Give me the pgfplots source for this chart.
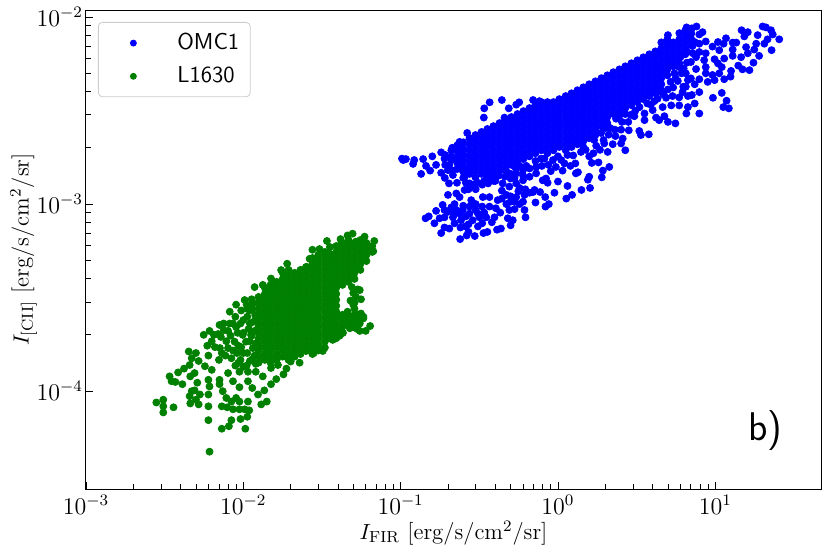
\documentclass[border=0pt]{standalone}
\usepackage{pgfplots}
\pgfplotsset{compat=1.18}
\definecolor{mplgreen}{RGB}{0,128,0}
\definecolor{mplframe}{RGB}{204,204,204}

\begin{document}
\begin{tikzpicture}
\begin{axis}[
  name=ax,
  scale only axis,
  width=367.5pt,
  height=239.5pt,
  xmode=log,
  ymode=log,
  xmin=1e-3, xmax=47,
  ymin=3e-5, ymax=1.09e-2,
  xtick={1e-3,1e-2,1e-1,1,10},
  ytick={1e-4,1e-3,1e-2},
  tick align=inside,
  tick pos=lower,
  major tick length=3.75pt,
  minor tick length=2.4pt,
  axis line style={line width=0.5pt},
  tick style={line width=0.4pt,black},
  tick label style={font=\fontsize{11.5}{14}\selectfont},
  yticklabel style={xshift=2pt},
  xticklabel style={yshift=0.5pt},
  xlabel={$I_{\rm FIR}$ [erg/s/cm$^2$/sr]},
  ylabel={$I_{\rm [CII]}$ [erg/s/cm$^2$/sr]},
  label style={font=\fontsize{11.4}{14}\selectfont},
  xlabel style={yshift=3.5pt},
  ylabel style={yshift=-7pt},
  legend cell align=left,
  legend image code/.code={
    \path[draw=none] (0pt,0pt) -- (34pt,0pt);
    \draw[#1, draw=none, mark size=1.5pt] plot coordinates {(14pt,0pt)};
  },
  legend style={
    at={(0.0163,0.975)}, anchor=north west,
    draw=mplframe, line width=0.4pt, rounded corners=2pt,
    fill=white, inner xsep=3.5pt, inner ysep=3.5pt,
    font=\fontsize{11.5}{15}\selectfont\sffamily,
    row sep=3pt,
  },
]

\addplot[only marks, mark=*, mark size=1.75pt, color=blue, mark options={draw=blue, fill=blue}] coordinates {
(0.102,1.75e-3) (0.108,1.74e-3) (0.104,1.72e-3) (0.12,1.64e-3) (0.122,1.72e-3) (0.135,1.45e-3) (0.139,1.74e-3)
(0.154,1.51e-3) (0.145,1.6e-3) (0.159,1.8e-3) (0.168,1.62e-3) (0.181,1.89e-3) (0.181,1.47e-3) (0.191,1.38e-3)
(0.203,1.29e-3) (0.2,1.52e-3) (0.228,1.3e-3) (0.215,1.43e-3) (0.237,2.15e-3) (0.265,2.4e-3) (0.213,2.0e-3)
(0.226,1.97e-3) (0.34,3.25e-3) (0.368,3.5e-3) (0.44,3.6e-3) (0.487,3.25e-3) (0.338,2.9e-3) (0.457,2.9e-3)
(0.543,3.4e-3) (0.567,3.5e-3) (0.695,3.6e-3) (0.763,3.55e-3)
(0.2,1.12e-3) (0.185,9.9e-4) (0.168,9.2e-4) (0.144,8.4e-4) (0.151,8.6e-4) (0.164,7.9e-4) (0.181,7.0e-4)
(0.239,6.5e-4) (0.263,6.8e-4) (0.27,7.1e-4) (0.296,6.75e-4) (0.336,7e-4) (0.356,7.1e-4) (0.41,7.3e-4)
(0.434,7.4e-4) (0.204,7.4e-4) (0.19,7.5e-4) (0.258,7.6e-4) (0.31,7.6e-4) (0.35,8.5e-4) (0.395,8.5e-4)
(0.48,8.4e-4) (0.516,8.2e-4) (0.5,7.7e-4) (0.613,9.3e-4) (0.622,8.5e-4) (0.491,9.3e-4) (0.53,9.4e-4)
(0.72,1.02e-3) (0.833,9.7e-4) (0.875,1.0e-3) (0.95,1.15e-3) (1.13,1.07e-3) (1.23,1.12e-3) (1.41,1.19e-3)
(1.6,1.22e-3) (1.15,1.25e-3) (1.0,1.32e-3) (0.86,1.3e-3) (0.83,1.09e-3) (0.77,1.16e-3) (0.71,1.19e-3)
(0.66,1.15e-3) (1.55,1.35e-3) (1.58,1.4e-3) (1.9,1.39e-3) (1.93,1.51e-3) (1.29,1.65e-3) (1.3,1.46e-3)
(1.34,1.48e-3) (1.81,1.67e-3) (1.64,1.66e-3) (1.58,1.8e-3) (1.68,1.87e-3) (2.07,1.9e-3) (2.12,1.58e-3)
(0.226,9.3e-4) (0.248,9.3e-4) (0.215,8.5e-4) (0.237,8.9e-4) (0.274,9.7e-4) (0.30,9.3e-4) (0.317,8.5e-4)
(0.287,8.2e-4) (0.19,8.5e-4) (0.177,8.4e-4) (0.2,9.1e-4) (0.22,7.9e-4) (0.242,8.2e-4) (0.274,8.9e-4)
(0.367,1.09e-3) (0.333,1.09e-3) (0.367,9.7e-4) (0.414,1.05e-3) (0.403,9.5e-4) (0.281,1.05e-3) (0.237,1.09e-3)
(0.255,1.19e-3) (0.274,1.29e-3) (0.226,1.14e-3) (0.445,1.29e-3) (0.491,1.24e-3) (0.543,1.29e-3) (0.6,1.34e-3)
(0.47,1.12e-3) (0.543,1.09e-3) (0.613,1.12e-3) (0.47,1.0e-3) (0.6,1.03e-3) (0.53,1.03e-3) (0.695,1.16e-3)
(0.66,1.4e-3) (0.727,1.46e-3) (0.8,1.34e-3) (0.84,1.37e-3) (0.727,1.58e-3) (0.82,1.75e-3) (0.93,1.72e-3)
(0.97,1.58e-3) (1.07,1.51e-3) (1.05,1.72e-3) (0.543,1.46e-3) (0.6,1.52e-3)
(0.19,1.75e-3) (0.21,1.8e-3) (0.204,1.62e-3) (0.237,1.8e-3) (0.242,1.58e-3) (0.267,1.46e-3) (0.274,1.58e-3)
(0.37,1.4e-3) (0.40,1.33e-3) (0.34,1.33e-3) (0.46,1.4e-3) (0.5,1.37e-3) (0.255,1.4e-3)
(0.44,1.18e-3) (0.5,1.1e-3) (0.56,1.17e-3) (0.5,1.03e-3) (0.57,1.0e-3) (0.44,1.07e-3) (0.62,1.2e-3) (0.57,1.22e-3)
(0.3,1.0e-3) (0.33,9.7e-4) (0.34,9e-4) (0.31,8.9e-4) (0.26,8.6e-4) (0.25,9.8e-4) (0.22,1.0e-3) (0.21,9.6e-4)
(0.19,9.3e-4) (0.22,8.9e-4) (0.27,7.8e-4) (0.24,7.5e-4) (0.33,7.9e-4) (0.38,8e-4) (0.43,9e-4)
% left and lower rim of the band
(0.229,2.06e-3) (0.229,1.92e-3) (0.229,1.78e-3) (0.229,1.66e-3) (0.229,1.54e-3)
(0.25,2.14e-3) (0.25,1.99e-3) (0.25,1.85e-3) (0.25,1.72e-3) (0.25,1.6e-3) (0.25,1.49e-3) (0.25,1.38e-3)
(0.21,1.94e-3) (0.21,1.72e-3) (0.21,1.52e-3) (0.192,1.83e-3) (0.192,1.62e-3)
(0.26,1.3e-3) (0.29,1.27e-3) (0.31,1.3e-3) (0.33,1.27e-3) (0.36,1.29e-3) (0.39,1.33e-3) (0.42,1.42e-3) (0.3,1.2e-3) (0.27,1.2e-3)
(0.47,1.5e-3) (0.5,1.45e-3) (0.53,1.38e-3) (0.57,1.6e-3) (0.63,1.6e-3) (0.6,1.42e-3) (0.54,1.55e-3) (0.66,1.55e-3) (0.72,1.7e-3)
(0.79,1.6e-3) (0.78,1.75e-3) (0.87,1.62e-3) (0.9,1.5e-3) (1.0,1.8e-3) (1.15,1.83e-3) (1.25,1.82e-3) (1.4,1.9e-3) (1.5,1.95e-3)
(1.2,1.6e-3) (1.1,1.65e-3) (1.75,2.05e-3) (1.95,2.2e-3) (1.85,1.95e-3) (2.1,2.35e-3) (2.3,2.5e-3) (2.0,2.55e-3) (1.7,2.2e-3)
(2.55,2.75e-3) (2.9,3e-3) (2.45,2.95e-3) (3.1,3.15e-3) (3.3,3.3e-3) (3.7,3.45e-3) (4.1,3.55e-3) (3.9,3.4e-3) (4.7,3.85e-3)
(4.4,4e-3) (5.0,4.1e-3) (5.2,4.5e-3) (5.6,4.7e-3) (5.5,5e-3) (6.1,5e-3) (6.3,5.3e-3) (6.6,5.7e-3) (7.2,6.4e-3)
% dense band
(0.274,2.25e-3) (0.274,2.09e-3) (0.274,1.94e-3) (0.274,1.80e-3) (0.274,1.68e-3) (0.274,1.56e-3) (0.274,1.45e-3)
(0.299,2.34e-3) (0.299,2.17e-3) (0.299,2.02e-3) (0.299,1.87e-3) (0.299,1.74e-3) (0.299,1.62e-3) (0.299,1.50e-3) (0.299,1.39e-3)
(0.327,2.43e-3) (0.327,2.25e-3) (0.327,2.09e-3) (0.327,1.94e-3) (0.327,1.80e-3) (0.327,1.68e-3) (0.327,1.56e-3) (0.327,1.45e-3)
(0.356,2.52e-3) (0.356,2.34e-3) (0.356,2.17e-3) (0.356,2.02e-3) (0.356,1.87e-3) (0.356,1.74e-3) (0.356,1.62e-3) (0.356,1.50e-3) (0.356,1.39e-3)
(0.389,2.61e-3) (0.389,2.43e-3) (0.389,2.25e-3) (0.389,2.09e-3) (0.389,1.94e-3) (0.389,1.80e-3) (0.389,1.68e-3) (0.389,1.56e-3) (0.389,1.45e-3)
(0.425,2.71e-3) (0.425,2.52e-3) (0.425,2.34e-3) (0.425,2.17e-3) (0.425,2.02e-3) (0.425,1.87e-3) (0.425,1.74e-3) (0.425,1.62e-3) (0.425,1.50e-3)
(0.464,2.81e-3) (0.464,2.61e-3) (0.464,2.43e-3) (0.464,2.25e-3) (0.464,2.09e-3) (0.464,1.94e-3) (0.464,1.80e-3) (0.464,1.68e-3) (0.464,1.56e-3)
(0.506,2.92e-3) (0.506,2.71e-3) (0.506,2.52e-3) (0.506,2.34e-3) (0.506,2.17e-3) (0.506,2.02e-3) (0.506,1.87e-3) (0.506,1.74e-3) (0.506,1.62e-3)
(0.553,3.03e-3) (0.553,2.81e-3) (0.553,2.61e-3) (0.553,2.43e-3) (0.553,2.25e-3) (0.553,2.09e-3) (0.553,1.94e-3) (0.553,1.80e-3) (0.553,1.68e-3)
(0.603,3.14e-3) (0.603,2.92e-3) (0.603,2.71e-3) (0.603,2.52e-3) (0.603,2.34e-3) (0.603,2.17e-3) (0.603,2.02e-3) (0.603,1.87e-3) (0.603,1.74e-3)
(0.659,3.26e-3) (0.659,3.03e-3) (0.659,2.81e-3) (0.659,2.61e-3) (0.659,2.43e-3) (0.659,2.25e-3) (0.659,2.09e-3) (0.659,1.94e-3) (0.659,1.80e-3)
(0.719,3.38e-3) (0.719,3.14e-3) (0.719,2.92e-3) (0.719,2.71e-3) (0.719,2.52e-3) (0.719,2.34e-3) (0.719,2.17e-3) (0.719,2.02e-3) (0.719,1.87e-3)
(0.785,3.51e-3) (0.785,3.26e-3) (0.785,3.03e-3) (0.785,2.81e-3) (0.785,2.61e-3) (0.785,2.43e-3) (0.785,2.25e-3) (0.785,2.09e-3) (0.785,1.94e-3)
(0.857,3.51e-3) (0.857,3.38e-3) (0.857,3.14e-3) (0.857,2.92e-3) (0.857,2.71e-3) (0.857,2.52e-3) (0.857,2.34e-3) (0.857,2.17e-3) (0.857,2.02e-3) (0.857,1.87e-3)
(0.936,3.51e-3) (0.936,3.26e-3) (0.936,3.03e-3) (0.936,2.81e-3) (0.936,2.61e-3) (0.936,2.43e-3) (0.936,2.25e-3) (0.936,2.09e-3) (0.936,1.94e-3)
(1.02,3.64e-3) (1.02,3.38e-3) (1.02,3.14e-3) (1.02,2.92e-3) (1.02,2.71e-3) (1.02,2.52e-3) (1.02,2.34e-3) (1.02,2.17e-3) (1.02,2.02e-3)
(1.12,3.78e-3) (1.12,3.51e-3) (1.12,3.26e-3) (1.12,3.03e-3) (1.12,2.81e-3) (1.12,2.61e-3) (1.12,2.43e-3) (1.12,2.25e-3) (1.12,2.09e-3) (1.12,1.94e-3)
(1.22,3.91e-3) (1.22,3.64e-3) (1.22,3.38e-3) (1.22,3.14e-3) (1.22,2.92e-3) (1.22,2.71e-3) (1.22,2.52e-3) (1.22,2.34e-3) (1.22,2.17e-3) (1.22,2.02e-3)
(1.33,4.06e-3) (1.33,3.78e-3) (1.33,3.51e-3) (1.33,3.26e-3) (1.33,3.03e-3) (1.33,2.81e-3) (1.33,2.61e-3) (1.33,2.43e-3) (1.33,2.25e-3) (1.33,2.09e-3)
(1.45,4.21e-3) (1.45,3.91e-3) (1.45,3.64e-3) (1.45,3.38e-3) (1.45,3.14e-3) (1.45,2.92e-3) (1.45,2.71e-3) (1.45,2.52e-3) (1.45,2.34e-3) (1.45,2.17e-3) (1.45,2.02e-3)
(1.58,4.37e-3) (1.58,4.06e-3) (1.58,3.78e-3) (1.58,3.51e-3) (1.58,3.26e-3) (1.58,3.03e-3) (1.58,2.81e-3) (1.58,2.61e-3) (1.58,2.43e-3) (1.58,2.25e-3)
(1.73,4.53e-3) (1.73,4.21e-3) (1.73,3.91e-3) (1.73,3.64e-3) (1.73,3.38e-3) (1.73,3.14e-3) (1.73,2.92e-3) (1.73,2.71e-3) (1.73,2.52e-3) (1.73,2.34e-3)
(1.89,4.71e-3) (1.89,4.37e-3) (1.89,4.06e-3) (1.89,3.78e-3) (1.89,3.51e-3) (1.89,3.26e-3) (1.89,3.03e-3) (1.89,2.81e-3) (1.89,2.61e-3)
(2.06,4.88e-3) (2.06,4.53e-3) (2.06,4.21e-3) (2.06,3.91e-3) (2.06,3.64e-3) (2.06,3.38e-3) (2.06,3.14e-3) (2.06,2.92e-3) (2.06,2.71e-3)
(2.25,5.07e-3) (2.25,4.71e-3) (2.25,4.37e-3) (2.25,4.06e-3) (2.25,3.78e-3) (2.25,3.51e-3) (2.25,3.26e-3) (2.25,3.03e-3)
(2.46,5.25e-3) (2.46,4.88e-3) (2.46,4.53e-3) (2.46,4.21e-3) (2.46,3.91e-3) (2.46,3.64e-3) (2.46,3.38e-3) (2.46,3.14e-3)
(2.68,5.45e-3) (2.68,5.07e-3) (2.68,4.71e-3) (2.68,4.37e-3) (2.68,4.06e-3) (2.68,3.78e-3) (2.68,3.51e-3) (2.68,3.26e-3) (2.68,3.03e-3)
(2.93,5.66e-3) (2.93,5.25e-3) (2.93,4.88e-3) (2.93,4.53e-3) (2.93,4.21e-3) (2.93,3.91e-3) (2.93,3.64e-3) (2.93,3.38e-3)
(3.20,5.87e-3) (3.20,5.45e-3) (3.20,5.07e-3) (3.20,4.71e-3) (3.20,4.37e-3) (3.20,4.06e-3) (3.20,3.78e-3) (3.20,3.51e-3)
(3.49,6.09e-3) (3.49,5.66e-3) (3.49,5.25e-3) (3.49,4.88e-3) (3.49,4.53e-3) (3.49,4.21e-3) (3.49,3.91e-3) (3.49,3.64e-3)
(3.81,6.32e-3) (3.81,5.87e-3) (3.81,5.45e-3) (3.81,5.07e-3) (3.81,4.71e-3) (3.81,4.37e-3) (3.81,4.06e-3) (3.81,3.78e-3)
(4.16,6.55e-3) (4.16,6.09e-3) (4.16,5.66e-3) (4.16,5.25e-3) (4.16,4.88e-3) (4.16,4.53e-3) (4.16,4.21e-3) (4.16,3.91e-3)
(4.54,7.32e-3) (4.54,6.80e-3) (4.54,6.32e-3) (4.54,5.87e-3) (4.54,5.45e-3) (4.54,5.07e-3) (4.54,4.71e-3) (4.54,4.37e-3) (4.54,4.06e-3)
(4.96,7.6e-3) (4.96,7.06e-3) (4.96,6.55e-3) (4.96,6.09e-3) (4.96,5.66e-3) (4.96,5.25e-3) (4.96,4.88e-3)
(5.41,7.32e-3) (5.41,6.80e-3) (5.41,6.32e-3) (5.41,5.87e-3) (5.41,5.45e-3)
(5.91,7.6e-3) (5.91,7.06e-3) (5.91,6.55e-3) (5.91,6.09e-3) (5.91,5.66e-3)
(6.45,8.48e-3) (6.45,7.88e-3) (6.45,7.32e-3) (6.45,6.80e-3) (6.45,6.32e-3)
(7.05,8.17e-3) (7.05,7.6e-3) (7.05,7.06e-3)
% upper right
(14.7,8.5e-3) (16.1,8.3e-3) (15.3,7.88e-3) (20,8.9e-3) (21,8.8e-3) (22.6,8.5e-3) (23.2,8.07e-3) (18.6,8e-3)
(21.5,7.6e-3) (20.5,7.2e-3) (18.2,7.2e-3) (25.5,7.6e-3) (22.8,6.65e-3) (11.7,7.7e-3) (10.4,7.35e-3) (11.3,7.2e-3)
(12.9,7.3e-3) (13.6,7.3e-3) (8.7,7.4e-3) (9.6,6.95e-3) (12.9,6.7e-3) (14.6,6.1e-3) (15.7,6.9e-3) (17.7,6.7e-3)
(19,6.2e-3) (16.1,6.4e-3) (12.9,6.2e-3) (10.6,6.65e-3) (11.4,6e-3) (9.9,5.95e-3) (10.4,5.65e-3) (14,5.5e-3)
(14.9,5.25e-3) (16.5,5.2e-3) (17.5,5.7e-3) (12.6,5.15e-3) (11,5.4e-3) (8.7,5.4e-3) (8.7,5.0e-3) (7.55,5.27e-3)
(9.6,4.9e-3) (10.6,5e-3) (12.5,4.8e-3) (11.4,4.65e-3) (9.9,4.6e-3) (8.95,4.5e-3) (7.92,4.65e-3) (7,4.7e-3)
(6.7,4.6e-3) (7.4,4.37e-3) (7.92,3.97e-3) (11,3.93e-3) (9.67,3.7e-3) (11.8,3.57e-3) (11.25,3.3e-3) (12.2,3.25e-3)
(6.26,4.24e-3) (6.2,3.97e-3) (5.4,4.2e-3) (4.87,3.7e-3) (7.1,3.83e-3) (6.7,3.78e-3) (5.9,3.72e-3) (5.35,3.78e-3)
(4.3,3.66e-3) (7.4,3.45e-3) (6.7,3.3e-3) (6.55,3.05e-3) (7.92,3.05e-3) (5.9,3.37e-3) (5.25,3.37e-3) (4.63,3.3e-3)
(4.0,3.18e-3) (3.55,3.05e-3) (3.06,2.95e-3) (2.8,2.75e-3) (3.55,2.81e-3) (4.2,2.9e-3) (4.75,2.95e-3) (5.58,2.7e-3)
(5,2.75e-3) (4.4,2.81e-3) (3.78,2.36e-3) (3.37,2.34e-3) (3.29,2.46e-3) (2.82,2.48e-3) (2.52,2.5e-3) (2.15,2.55e-3)
(2.32,2.31e-3) (2.58,2.24e-3) (2.23,2.09e-3) (2.52,2.11e-3) (2.68,1.94e-3) (1.88,2.4e-3) (1.97,2.11e-3) (2.34,2.86e-3)
(7.92,7.2e-3) (7.17,7e-3) (7.92,6.5e-3) (8.7,6.4e-3) (8.5,5.88e-3) (7.55,6.1e-3) (7,5.75e-3) (6.65,6.5e-3)
(6,6.1e-3) (5.9,5.4e-3) (6.5,5e-3) (5.78,4.55e-3) (6.5,4.24e-3)
(6.57,8.8e-3) (7.1,8.7e-3) (7.6,8.9e-3) (8.3,8.3e-3) (7.92,8.07e-3) (5.91,8.2e-3) (5,8e-3) (6.57,7.75e-3) (7.4,7.35e-3)
};
\addlegendentry{OMC1}

\addplot[only marks, mark=*, mark size=1.75pt, color=mplgreen, mark options={draw=mplgreen, fill=mplgreen}] coordinates {
(2.8e-3,8.7e-5) (3.1e-3,9.0e-5) (3.1e-3,8.3e-5) (3.1e-3,7.7e-5) (3.6e-3,8.2e-5) (3.4e-3,1.2e-4) (3.5e-3,1.13e-4)
(3.7e-3,1.12e-4) (4.1e-3,1.09e-4) (3.85e-3,1.26e-4) (4.2e-3,1.32e-4) (4.6e-3,1.2e-4) (4.9e-3,1.25e-4) (4.56e-3,1.38e-4)
(4.5e-3,1.63e-4) (5.0e-3,1.6e-4) (4.7e-3,1.5e-4) (5.2e-3,1.45e-4) (5.7e-3,1.36e-4) (6.3e-3,1.3e-4) (5.1e-3,1.11e-4)
(6.0e-3,1.15e-4) (6.1e-3,1.06e-4) (4.9e-3,1.01e-4) (4.7e-3,1e-4) (4.56e-3,9.4e-5) (5.3e-3,9.6e-5) (5e-3,9e-5)
(4.6e-3,8.6e-5) (5.2e-3,8.5e-5) (6e-3,9.6e-5) (6e-3,8.3e-5) (6e-3,7.0e-5) (7.3e-3,6.3e-5) (8.1e-3,6.5e-5)
(8.4e-3,7e-5) (9.6e-3,7.1e-5) (1.03e-2,6.3e-5) (1.06e-2,7.3e-5) (1.09e-2,7.9e-5) (6.1e-3,4.75e-5) (7.06e-3,1.15e-4)
(7.06e-3,1.09e-4) (7.4e-3,1.0e-4) (7.8e-3,9.2e-5) (7.3e-3,8.3e-5) (7.9e-3,8.2e-5) (8.6e-3,8e-5) (9.45e-3,8e-5)
(1.02e-2,8e-5) (9e-3,9.2e-5) (8.4e-3,8.8e-5) (9.45e-3,8.8e-5) (1.07e-2,8.8e-5) (1.24e-2,9.6e-5) (1.14e-2,1.04e-4)
(1.3e-2,8.5e-5) (1.41e-2,8.8e-5) (1.36e-2,1.01e-4) (1.5e-2,1.09e-4) (1.62e-2,1.16e-4) (1.33e-2,1.2e-4) (1.2e-2,1.27e-4)
(1.07e-2,1.13e-4) (9.45e-3,1.05e-4) (8.6e-3,1.13e-4) (8e-3,1.25e-4) (9.45e-3,1.27e-4) (1.07e-2,1.27e-4) (1.5e-2,1.33e-4)
(1.8e-2,1.23e-4) (1.88e-2,1.32e-4) (2e-2,1.44e-4) (2.28e-2,1.42e-4) (1.66e-2,1.38e-4)
(6.1e-3,2.1e-4) (7.06e-3,2.26e-4) (8.2e-3,2.66e-4) (9e-3,2.9e-4) (1.02e-2,3.07e-4) (1.18e-2,3.6e-4) (1.33e-2,3.7e-4)
(1.5e-2,4e-4) (1.74e-2,4.44e-4) (1.9e-2,4.8e-4) (2.5e-2,4.6e-4) (2.64e-2,5.1e-4) (2.75e-2,5.7e-4) (3.05e-2,5.75e-4)
(3.4e-2,6.35e-4) (4.15e-2,6.5e-4) (4.6e-2,6.8e-4) (4.95e-2,6.95e-4) (5.9e-2,6.7e-4) (6.8e-2,6.35e-4) (6.7e-2,5.6e-4)
(5.2e-2,6.3e-4) (3.55e-2,5.9e-4) (3.53e-2,5.45e-4) (4.2e-2,6.15e-4)
(6.4e-2,2.23e-4) (6e-2,2.1e-4) (5.5e-2,2.1e-4) (5.8e-2,2.5e-4) (5.35e-2,2.36e-4) (5.6e-2,3.1e-4) (5.35e-2,3.5e-4)
(4.9e-2,3.6e-4) (5.5e-2,3.47e-4) (5e-2,2.9e-4) (4.6e-2,2.66e-4) (4.75e-2,2.17e-4) (4.1e-2,1.98e-4) (3.45e-2,2e-4)
(3.7e-2,1.88e-4) (3.2e-2,1.64e-4) (2.8e-2,1.6e-4) (2.5e-2,1.64e-4) (2.1e-2,1.61e-4) (1.88e-2,1.53e-4)
(4.5e-2,2.56e-4) (5.35e-2,2.56e-4) (5.8e-2,2.45e-4) (4.3e-2,2.05e-4) (5e-2,3.35e-4) (5.2e-2,3.2e-4) (4.75e-2,2.26e-4) (3.9e-2,1.92e-4)
(4.7e-2,2.5e-4) (4.9e-2,2.45e-4) (5.2e-2,2.4e-4) (5.5e-2,2.3e-4) (5e-2,2.2e-4) (5.3e-2,2.15e-4) (5.6e-2,2.6e-4) (4.8e-2,3.05e-4)
% left part of the cloud
(5.6e-3,2.0e-4) (5.9e-3,1.75e-4) (6.3e-3,1.85e-4) (6.0e-3,1.55e-4) (6.9e-3,2.02e-4) (6.6e-3,1.72e-4) (7.0e-3,1.47e-4)
(7.5e-3,2.12e-4) (7.8e-3,1.85e-4) (7.3e-3,1.6e-4) (8.2e-3,2.3e-4) (8.3e-3,1.98e-4) (8.0e-3,1.7e-4) (8.4e-3,1.5e-4)
(8.9e-3,2.5e-4) (9.0e-3,2.2e-4) (8.8e-3,1.84e-4) (9.1e-3,1.6e-4) (8.9e-3,1.37e-4)
(9.7e-3,2.7e-4) (9.6e-3,2.3e-4) (9.9e-3,2.0e-4) (9.7e-3,1.72e-4) (9.6e-3,1.47e-4)
(1.05e-2,2.9e-4) (1.06e-2,2.5e-4) (1.08e-2,2.15e-4) (1.04e-2,1.84e-4) (1.06e-2,1.6e-4) (1.05e-2,1.37e-4)
(1.13e-2,3.1e-4) (1.14e-2,2.75e-4) (1.16e-2,2.35e-4) (1.13e-2,1.98e-4) (1.15e-2,1.7e-4) (1.14e-2,1.48e-4)
(1.1e-2,2.7e-4) (1.1e-2,2.3e-4) (1.12e-2,2e-4) (1.18e-2,2.1e-4) (1.1e-2,1.85e-4) (1.2e-2,1.8e-4) (1.18e-2,1.55e-4) (1.1e-2,1.45e-4)
(1.19e-2,2.55e-4) (1.0e-2,2.4e-4) (1.0e-2,2.05e-4) (9.2e-3,2.05e-4) (9.3e-3,1.75e-4) (8.6e-3,2.3e-4) (8e-3,2.1e-4) (7.2e-3,1.95e-4)
(8.6e-3,1.65e-4) (1.0e-2,1.6e-4) (1.2e-2,1.4e-4) (1.0e-2,1.35e-4) (9.3e-3,1.42e-4) (7.7e-3,1.55e-4) (7.1e-3,1.7e-4) (6.5e-3,2e-4)
(7.5e-3,2.3e-4) (1.06e-2,2.75e-4) (1.15e-2,2.95e-4)
% dense body
(1.25e-2,3.19e-4) (1.25e-2,2.97e-4) (1.25e-2,2.76e-4) (1.25e-2,2.56e-4) (1.25e-2,2.38e-4) (1.25e-2,2.21e-4) (1.25e-2,2.05e-4) (1.25e-2,1.91e-4) (1.25e-2,1.77e-4) (1.25e-2,1.65e-4) (1.25e-2,1.53e-4) (1.25e-2,1.42e-4)
(1.37e-2,3.57e-4) (1.37e-2,3.31e-4) (1.37e-2,3.08e-4) (1.37e-2,2.86e-4) (1.37e-2,2.66e-4) (1.37e-2,2.47e-4) (1.37e-2,2.29e-4) (1.37e-2,2.13e-4) (1.37e-2,1.98e-4) (1.37e-2,1.84e-4) (1.37e-2,1.71e-4) (1.37e-2,1.58e-4) (1.37e-2,1.47e-4)
(1.49e-2,3.7e-4) (1.49e-2,3.44e-4) (1.49e-2,3.19e-4) (1.49e-2,2.97e-4) (1.49e-2,2.76e-4) (1.49e-2,2.56e-4) (1.49e-2,2.38e-4) (1.49e-2,2.21e-4) (1.49e-2,2.05e-4) (1.49e-2,1.91e-4) (1.49e-2,1.77e-4) (1.49e-2,1.65e-4) (1.49e-2,1.53e-4) (1.49e-2,1.42e-4)
(1.63e-2,3.84e-4) (1.63e-2,3.57e-4) (1.63e-2,3.31e-4) (1.63e-2,3.08e-4) (1.63e-2,2.86e-4) (1.63e-2,2.66e-4) (1.63e-2,2.47e-4) (1.63e-2,2.29e-4) (1.63e-2,2.13e-4) (1.63e-2,1.98e-4) (1.63e-2,1.84e-4) (1.63e-2,1.71e-4) (1.63e-2,1.58e-4) (1.63e-2,1.47e-4)
(1.78e-2,4.29e-4) (1.78e-2,3.98e-4) (1.78e-2,3.7e-4) (1.78e-2,3.44e-4) (1.78e-2,3.19e-4) (1.78e-2,2.97e-4) (1.78e-2,2.76e-4) (1.78e-2,2.56e-4) (1.78e-2,2.38e-4) (1.78e-2,2.21e-4) (1.78e-2,2.05e-4) (1.78e-2,1.91e-4) (1.78e-2,1.77e-4) (1.78e-2,1.65e-4) (1.78e-2,1.53e-4)
(1.94e-2,4.45e-4) (1.94e-2,4.13e-4) (1.94e-2,3.84e-4) (1.94e-2,3.57e-4) (1.94e-2,3.31e-4) (1.94e-2,3.08e-4) (1.94e-2,2.86e-4) (1.94e-2,2.66e-4) (1.94e-2,2.47e-4) (1.94e-2,2.29e-4) (1.94e-2,2.13e-4) (1.94e-2,1.98e-4) (1.94e-2,1.84e-4) (1.94e-2,1.71e-4) (1.94e-2,1.58e-4) (1.94e-2,1.47e-4)
(2.12e-2,4.29e-4) (2.12e-2,3.98e-4) (2.12e-2,3.7e-4) (2.12e-2,3.44e-4) (2.12e-2,3.19e-4) (2.12e-2,2.97e-4) (2.12e-2,2.76e-4) (2.12e-2,2.56e-4) (2.12e-2,2.38e-4) (2.12e-2,2.21e-4) (2.12e-2,2.05e-4) (2.12e-2,1.91e-4) (2.12e-2,1.77e-4) (2.12e-2,1.65e-4) (2.12e-2,1.53e-4)
(2.31e-2,4.45e-4) (2.31e-2,4.13e-4) (2.31e-2,3.84e-4) (2.31e-2,3.57e-4) (2.31e-2,3.31e-4) (2.31e-2,3.08e-4) (2.31e-2,2.86e-4) (2.31e-2,2.66e-4) (2.31e-2,2.47e-4) (2.31e-2,2.29e-4) (2.31e-2,2.13e-4) (2.31e-2,1.98e-4) (2.31e-2,1.84e-4) (2.31e-2,1.71e-4) (2.31e-2,1.58e-4)
(2.52e-2,4.62e-4) (2.52e-2,4.29e-4) (2.52e-2,3.98e-4) (2.52e-2,3.7e-4) (2.52e-2,3.44e-4) (2.52e-2,3.19e-4) (2.52e-2,2.97e-4) (2.52e-2,2.76e-4) (2.52e-2,2.56e-4) (2.52e-2,2.38e-4) (2.52e-2,2.21e-4) (2.52e-2,2.05e-4) (2.52e-2,1.91e-4) (2.52e-2,1.77e-4) (2.52e-2,1.65e-4)
(2.75e-2,5.15e-4) (2.75e-2,4.79e-4) (2.75e-2,4.45e-4) (2.75e-2,4.13e-4) (2.75e-2,3.84e-4) (2.75e-2,3.57e-4) (2.75e-2,3.31e-4) (2.75e-2,3.08e-4) (2.75e-2,2.86e-4) (2.75e-2,2.66e-4) (2.75e-2,2.47e-4) (2.75e-2,2.29e-4) (2.75e-2,2.13e-4) (2.75e-2,1.98e-4) (2.75e-2,1.84e-4) (2.75e-2,1.71e-4) (2.75e-2,1.58e-4)
(3.0e-2,5.35e-4) (3.0e-2,4.96e-4) (3.0e-2,4.62e-4) (3.0e-2,4.29e-4) (3.0e-2,3.98e-4) (3.0e-2,3.7e-4) (3.0e-2,3.44e-4) (3.0e-2,3.19e-4) (3.0e-2,2.97e-4) (3.0e-2,2.76e-4) (3.0e-2,2.56e-4) (3.0e-2,2.38e-4) (3.0e-2,2.21e-4) (3.0e-2,2.05e-4) (3.0e-2,1.91e-4) (3.0e-2,1.77e-4) (3.0e-2,1.65e-4)
(3.3e-2,5.55e-4) (3.3e-2,5.15e-4) (3.3e-2,4.79e-4) (3.3e-2,4.45e-4) (3.3e-2,4.13e-4) (3.3e-2,3.84e-4) (3.3e-2,3.57e-4) (3.3e-2,3.31e-4) (3.3e-2,3.08e-4) (3.3e-2,2.86e-4) (3.3e-2,2.66e-4) (3.3e-2,2.47e-4) (3.3e-2,2.29e-4) (3.3e-2,2.13e-4) (3.3e-2,1.98e-4) (3.3e-2,1.84e-4) (3.3e-2,1.71e-4)
(3.6e-2,5.35e-4) (3.6e-2,4.96e-4) (3.6e-2,4.62e-4) (3.6e-2,4.29e-4) (3.6e-2,3.98e-4) (3.6e-2,3.7e-4) (3.6e-2,3.44e-4) (3.6e-2,3.19e-4) (3.6e-2,2.97e-4) (3.6e-2,2.76e-4) (3.6e-2,2.56e-4) (3.6e-2,2.38e-4) (3.6e-2,2.21e-4) (3.6e-2,2.05e-4) (3.6e-2,1.91e-4)
(3.9e-2,5.97e-4) (3.9e-2,5.55e-4) (3.9e-2,5.15e-4) (3.9e-2,4.79e-4) (3.9e-2,4.45e-4) (3.9e-2,4.13e-4) (3.9e-2,3.84e-4) (3.9e-2,3.57e-4) (3.9e-2,3.31e-4) (3.9e-2,3.08e-4) (3.9e-2,2.86e-4) (3.9e-2,2.66e-4) (3.9e-2,2.47e-4) (3.9e-2,2.29e-4) (3.9e-2,2.13e-4) (3.9e-2,1.98e-4)
(4.27e-2,6.2e-4) (4.27e-2,5.75e-4) (4.27e-2,5.35e-4) (4.27e-2,4.96e-4) (4.27e-2,4.62e-4) (4.27e-2,4.29e-4) (4.27e-2,3.98e-4) (4.27e-2,3.7e-4) (4.27e-2,2.56e-4) (4.27e-2,2.38e-4) (4.27e-2,2.21e-4) (4.27e-2,2.05e-4)
(4.66e-2,6.43e-4) (4.66e-2,5.97e-4) (4.66e-2,5.55e-4) (4.66e-2,5.15e-4) (4.66e-2,4.79e-4) (4.66e-2,4.45e-4) (4.66e-2,4.13e-4) (4.66e-2,3.84e-4) (4.66e-2,2.47e-4) (4.66e-2,2.29e-4)
(5.09e-2,6.2e-4) (5.09e-2,5.75e-4) (5.09e-2,5.35e-4) (5.09e-2,4.96e-4) (5.09e-2,4.62e-4) (5.09e-2,4.29e-4) (5.09e-2,3.98e-4) (5.09e-2,2.97e-4) (5.09e-2,2.76e-4) (5.09e-2,2.56e-4) (5.09e-2,2.38e-4)
(5.55e-2,6.43e-4) (5.55e-2,5.97e-4) (5.55e-2,5.55e-4) (5.55e-2,5.15e-4) (5.55e-2,4.79e-4) (5.55e-2,4.45e-4)
(6.06e-2,6.2e-4) (6.06e-2,5.75e-4) (6.06e-2,5.35e-4) (6.06e-2,4.96e-4)
(6.6e-2,5.97e-4) (6.6e-2,5.55e-4)
};
\addlegendentry{L1630}

\node[font=\fontsize{20}{24}\selectfont\sffamily] at (rel axis cs:0.924,0.123) {b)};
\end{axis}
% page margins round the axis
\path ([shift={(-43pt,-33.5pt)}]ax.south west) rectangle ([shift={(4.5pt,5pt)}]ax.north east);
\end{tikzpicture}
\end{document}
